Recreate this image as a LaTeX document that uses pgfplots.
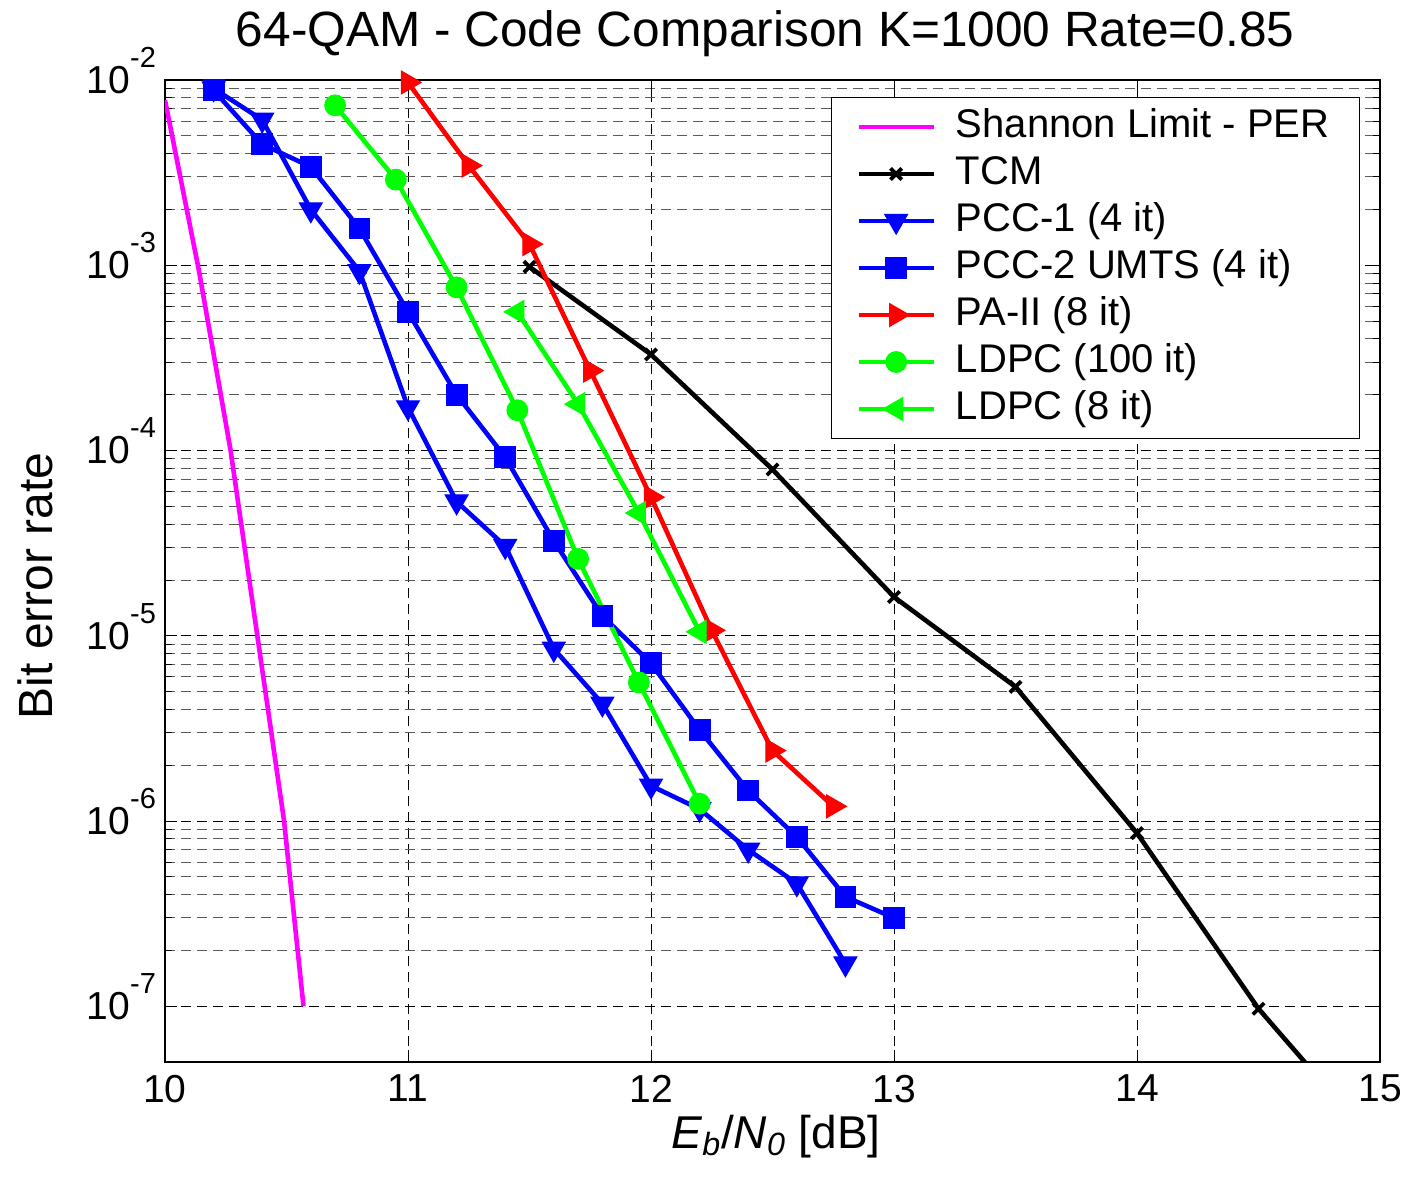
\documentclass[border=0pt]{standalone}
\usepackage{fontspec}
\setmainfont{Liberation Sans}
\usepackage{pgfplots}
\pgfplotsset{compat=1.18}
\definecolor{cmag}{rgb}{1,0,1}
\definecolor{cblue}{rgb}{0,0,1}
\definecolor{cred}{rgb}{1,0,0}
\definecolor{cgreen}{rgb}{0,1,0}
\newcommand{\tl}[1]{10\smash{\raisebox{13pt}{\fontsize{14.5}{14.5}\selectfont #1}}}
\begin{document}
\begin{tikzpicture}
\useasboundingbox (-82.5pt,-64.5pt) rectangle (620.5pt,531pt);
\begin{axis}[
  scale only axis,
  width=607.5pt, height=491pt,
  xmin=10, xmax=15,
  ymode=log, ymin=5e-8, ymax=1e-2,
  xtick={10,11,12,13,14,15},
  ytick={1e-7,1e-6,1e-5,1e-4,1e-3,1e-2},
  yticklabels={\tl{-7},\tl{-6},\tl{-5},\tl{-4},\tl{-3},\tl{-2}},
  /pgf/number format/assume math mode=true,
  tick label style={font=\fontsize{19.5}{21}\selectfont},
  xticklabel style={yshift=-3pt},
  yticklabel style={xshift=-1pt},
  tick align=inside,
  xtick pos=both, ytick pos=both,
  major tick length=6pt, minor tick length=3.5pt,
  every tick/.style={black, line width=0.5pt},
  axis line style={line width=0.6pt},
  xmajorgrids, ymajorgrids, yminorgrids,
  major grid style={black, line width=0.45pt, dash pattern=on 5pt off 3pt},
  minor grid style={black!65, line width=0.5pt, dash pattern=on 5pt off 3pt},
  title={64-QAM - Code Comparison K=1000 Rate=0.85},
  title style={font=\fontsize{24.8}{28}\selectfont, at={(axis description cs:0.494,1.0224)}, anchor=base},
  xlabel={\textit{E\textsubscript{b}}/\textit{N\textsubscript{0}} [dB]},
  xlabel style={font=\fontsize{23}{26}\selectfont, at={(axis description cs:0.503,-0.0876)}, anchor=base},
  ylabel={Bit error rate},
  ylabel style={font=\fontsize{24}{26}\selectfont, at={(axis description cs:-0.0922,0.485)}, anchor=base, rotate=0},
  legend style={at={(0.9835,0.9827)}, anchor=north east, draw=black, line width=0.5pt,
    font=\fontsize{20}{22}\selectfont, inner xsep=12.5pt, inner ysep=3pt, row sep=0pt,
    nodes={text height=14.5pt, text depth=4pt, inner sep=2.5pt}},
  legend cell align=left,
  legend image code/.code={\path (0pt,0pt) (45pt,0pt);\draw[mark indices={2}] plot coordinates {(0pt,0pt) (18.75pt,0pt) (37.5pt,0pt)};},
  every axis plot/.append style={line width=2.3pt},
]
\addplot[cmag, no marks] coordinates {
 (10.0,7.8e-3) (10.14,9.3e-4) (10.27,1.0e-4) (10.38,1.0e-5) (10.49,1.0e-6) (10.57,1.0e-7)};
\addlegendentry{Shannon Limit - PER}
\addplot[black, mark=x, mark size=4pt, mark options={solid, line width=1.9pt}, mark indices={1,2,3,4,5,6,7}] coordinates {
 (11.5,9.8e-4) (12.0,3.3e-4) (12.5,7.9e-5) (13.0,1.62e-5) (13.5,5.3e-6) (14.0,8.6e-7) (14.5,9.7e-8) (15.0,1.7e-8)};
\addlegendentry{TCM}
\addplot[cblue, mark=triangle*, mark size=6.6pt, mark options={solid, rotate=180, fill=cblue, draw=cblue, line width=0.5pt}] coordinates {
 (10.2,9.0e-3) (10.4,6.1e-3) (10.6,2.0e-3) (10.8,9.3e-4) (11.0,1.71e-4) (11.2,5.3e-5) (11.4,3.05e-5) (11.6,8.5e-6) (11.8,4.3e-6) (12.0,1.55e-6) (12.2,1.16e-6) (12.4,7.0e-7) (12.6,4.6e-7) (12.8,1.7e-7)};
\addlegendentry{PCC-1 (4 it)}
\addplot[cblue, mark=square*, mark size=5.2pt, mark options={solid, fill=cblue, draw=cblue, line width=0.5pt}] coordinates {
 (10.2,8.8e-3) (10.4,4.5e-3) (10.6,3.4e-3) (10.8,1.58e-3) (11.0,5.6e-4) (11.2,2.0e-4) (11.4,9.2e-5) (11.6,3.25e-5) (11.8,1.28e-5) (12.0,7.1e-6) (12.2,3.1e-6) (12.4,1.46e-6) (12.6,8.2e-7) (12.8,3.9e-7) (13.0,3.0e-7)};
\addlegendentry{PCC-2 UMTS (4 it)}
\addplot[cred, mark=triangle*, mark size=6.6pt, mark options={solid, rotate=-90, fill=cred, draw=cred, line width=0.5pt}] coordinates {
 (11.0,9.7e-3) (11.25,3.45e-3) (11.5,1.3e-3) (11.75,2.7e-4) (12.0,5.6e-5) (12.25,1.07e-5) (12.5,2.4e-6) (12.75,1.2e-6)};
\addlegendentry{PA-II (8 it)}
\addplot[cgreen, mark=*, mark size=5.2pt, mark options={solid, fill=cgreen, draw=cgreen, line width=0.5pt}] coordinates {
 (10.7,7.3e-3) (10.95,2.9e-3) (11.2,7.6e-4) (11.45,1.65e-4) (11.7,2.6e-5) (11.95,5.6e-6) (12.2,1.24e-6)};
\addlegendentry{LDPC (100 it)}
\addplot[cgreen, mark=triangle*, mark size=6.6pt, mark options={solid, rotate=90, fill=cgreen, draw=cgreen, line width=0.5pt}] coordinates {
 (11.45,5.6e-4) (11.7,1.78e-4) (11.95,4.6e-5) (12.2,1.05e-5)};
\addlegendentry{LDPC (8 it)}
\end{axis}
\end{tikzpicture}
\end{document}
